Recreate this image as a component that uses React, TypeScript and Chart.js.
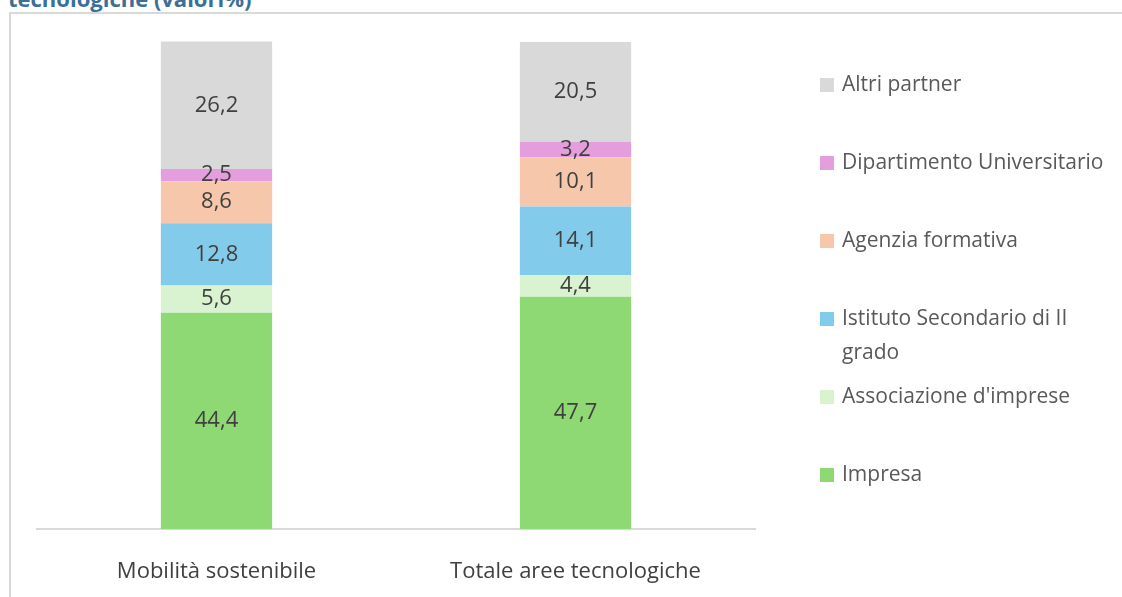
import React, { useEffect, useRef } from "react";
import { Chart, registerables } from "chart.js";

Chart.register(...registerables);

const categories = ["Mobilità sostenibile", "Totale aree tecnologiche"];
const seriesNames = [
  "Impresa",
  "Associazione d'imprese",
  "Istituto Secondario di II grado",
  "Agenzia formativa",
  "Dipartimento Universitario",
  "Altri partner",
];
const impresa = [44.4, 47.7];
const associazione = [5.6, 4.4];
const istituto = [12.8, 14.1];
const agenzia = [8.6, 10.1];
const dipartimento = [2.5, 3.2];
const altri = [26.2, 20.5];
const seriesColors = ["#8ed973", "#d9f2d0", "#83cbeb", "#f7c7ac", "#e59edd", "#d9d9d9"];

const FONT = "'Open Sans', 'Noto Sans', sans-serif";

const dataLabelPlugin = {
  id: "dataLabels",
  afterDatasetsDraw(chart: any) {
    const ctx = chart.ctx;
    ctx.save();
    ctx.font = `22px ${FONT}`;
    ctx.fillStyle = "#404040";
    ctx.textAlign = "center";
    ctx.textBaseline = "middle";
    chart.data.datasets.forEach((ds: any, i: number) => {
      const meta = chart.getDatasetMeta(i);
      meta.data.forEach((bar: any, j: number) => {
        const v = ds.data[j];
        const y = (bar.y + bar.base) / 2;
        ctx.fillText(String(v).replace(".", ","), bar.x, y);
      });
    });
    ctx.restore();
  },
};

const legendPlugin = {
  id: "customLegend",
  afterDraw(chart: any) {
    const ctx = chart.ctx;
    const opts = chart.options.plugins.customLegend;
    ctx.save();
    ctx.font = `21px ${FONT}`;
    ctx.textBaseline = "middle";
    ctx.textAlign = "left";
    const items = chart.data.datasets.map((d: any) => ({ label: d.label, color: d.backgroundColor })).reverse();
    items.forEach((it: any, i: number) => {
      const cy = opts.top + i * opts.step;
      ctx.fillStyle = it.color;
      ctx.fillRect(opts.x, cy - 7, 14, 14);
      ctx.fillStyle = "#595959";
      const words = it.label.split(" ");
      const lines: string[] = [];
      let line = "";
      words.forEach((w: string) => {
        const test = line ? line + " " + w : w;
        if (ctx.measureText(test).width > opts.maxWidth && line) {
          lines.push(line);
          line = w;
        } else line = test;
      });
      lines.push(line);
      lines.forEach((l, k) => ctx.fillText(l, opts.x + 22, cy + k * 34));
    });
    ctx.restore();
  },
};

export default function App() {
  const ref = useRef<HTMLCanvasElement | null>(null);
  useEffect(() => {
    document.body.style.margin = "0";
    const values = [impresa, associazione, istituto, agenzia, dipartimento, altri];
    const chart = new Chart(ref.current as HTMLCanvasElement, {
      type: "bar",
      data: {
        labels: categories,
        datasets: values.map((v, i) => ({
          label: seriesNames[i],
          data: v,
          backgroundColor: seriesColors[i],
          barPercentage: 0.31,
          categoryPercentage: 1,
          clip: false as any,
        })),
      },
      options: {
        animation: false,
        responsive: false,
        layout: { padding: { left: 37, right: 367, top: 42, bottom: 0 } },
        scales: {
          x: {
            stacked: true,
            grid: { display: false, drawTicks: false },
            border: { display: true, color: "#d9d9d9", width: 2 },
            ticks: { font: { family: FONT, size: 22 }, color: "#404040", padding: 30, maxRotation: 0 },
            afterFit: (scale: any) => {
              scale.height = 68;
            },
          },
          y: { stacked: true, display: false, min: 0, max: 100 },
        },
        plugins: {
          legend: { display: false },
          tooltip: { enabled: false },
          customLegend: { x: 820, top: 85, step: 78, maxWidth: 272 },
        } as any,
      },
      plugins: [dataLabelPlugin, legendPlugin],
    });
    return () => chart.destroy();
  }, []);
  return (
    <div style={{ position: "relative", width: 1122, height: 597, overflow: "hidden", background: "#fff" }}>
      <div
        style={{
          position: "absolute",
          left: 8,
          top: -14,
          fontFamily: FONT,
          fontWeight: 700,
          fontSize: 22,
          color: "#3b6f97",
          whiteSpace: "nowrap",
          lineHeight: "24px",
        }}
      >
        tecnologiche (valori%)
      </div>
      <div
        style={{
          position: "absolute",
          left: 9,
          top: 12,
          width: 1130,
          height: 600,
          border: "2px solid #d9d9d9",
        }}
      />
      <canvas ref={ref} width={1122} height={597} style={{ position: "absolute", left: 0, top: 0 }} />
    </div>
  );
}
